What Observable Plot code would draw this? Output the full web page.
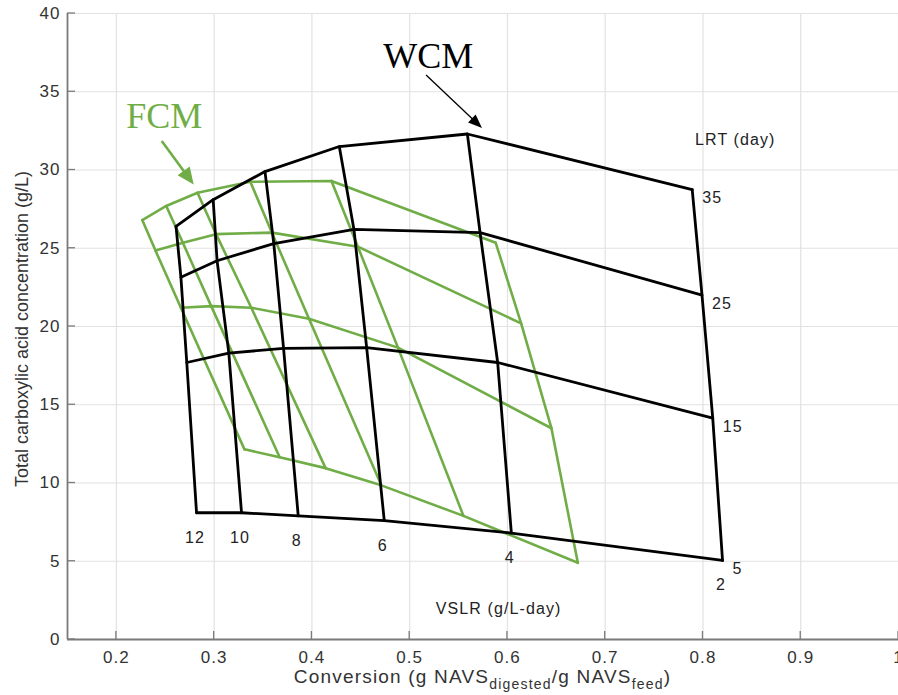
<!DOCTYPE html>
<html>
<head>
<meta charset="utf-8">
<script src="https://cdn.jsdelivr.net/npm/d3@7"></script>
<script src="https://cdn.jsdelivr.net/npm/@observablehq/plot@0.6"></script>
<style>
  body { margin: 0; background: #fff; }
  #chart svg { display: block; }
  #chart text { letter-spacing: 1.1px; }
</style>
</head>
<body>
<div id="chart"></div>
<script>
// ---- Data ----
const vslr = [12, 10, 8, 6, 4, 2];          // g/L-day (grid columns)
const lrt = [35, 25, 15, 5];                // day (grid rows)

// WCM: conversion (x) and total carboxylic acid (y), rows = LRT, cols = VSLR
const wcmConv = [
  [0.261, 0.299, 0.352, 0.428, 0.559, 0.789],
  [0.266, 0.303, 0.361, 0.443, 0.572, 0.799],
  [0.272, 0.315, 0.371, 0.456, 0.590, 0.810],
  [0.282, 0.328, 0.386, 0.474, 0.604, 0.820]
];
const wcmConc = [
  [26.4, 28.1, 29.9, 31.5, 32.3, 28.75],
  [23.15, 24.2, 25.3, 26.2, 26.0, 22.0],
  [17.7, 18.3, 18.6, 18.65, 17.7, 14.15],
  [8.1, 8.1, 7.9, 7.6, 6.8, 5.05]
];

// FCM
const fcmConv = [
  [0.2265, 0.251, 0.283, 0.337, 0.420, 0.588],
  [0.240, 0.268, 0.302, 0.359, 0.447, 0.614],
  [0.266, 0.297, 0.338, 0.397, 0.488, 0.645],
  [0.331, 0.367, 0.414, 0.471, 0.555, 0.672]
];
const fcmConc = [
  [26.8, 27.7, 28.55, 29.25, 29.3, 25.35],
  [24.85, 25.35, 25.9, 26.0, 25.1, 20.2],
  [21.2, 21.3, 21.2, 20.5, 18.65, 13.5],
  [12.15, 11.65, 10.95, 9.85, 7.9, 4.9]
];

const xTicks = [0.2, 0.3, 0.4, 0.5, 0.6, 0.7, 0.8, 0.9, 1.0];
const yTicks = [0, 5, 10, 15, 20, 25, 30, 35, 40];
const xDomain = [0.15, 1.0];
const yDomain = [0, 40];

// annotations (text, conversion, concentration)
const annoLabels = ["WCM", "FCM"];
const annoX = [0.519, 0.249];
const annoY = [36.5, 32.7];
const carpetTitles = ["LRT (day)", "VSLR (g/L-day)"];
const carpetTitleX = [0.833, 0.591];
const carpetTitleY = [31.6, 1.65];

// arrows: tail -> tip (data units)
const arrowTailX = [0.5173, 0.2469];
const arrowTailY = [36.04, 31.82];
const arrowTipX = [0.5745, 0.2796];
const arrowTipY = [32.65, 29.04];

// ---- Styles ----
const green = "#70ad47";
const black = "#000000";
const axisColor = "#7a7a7a";
const textColor = "#333333";
const arrowStyle = [
  {color: black, width: 1.3, head: 14, half: 5.5},
  {color: green, width: 2.6, head: 17, half: 7.5}
];

// ---- Build tables ----
function grid(model, conv, conc) {
  const out = [];
  lrt.forEach((L, i) => vslr.forEach((V, j) => out.push({model, lrt: L, vslr: V, x: conv[i][j], y: conc[i][j]})));
  return out;
}
const wcm = grid("WCM", wcmConv, wcmConc);
const fcm = grid("FCM", fcmConv, fcmConc);
const annos = annoLabels.map((t, i) => ({t, x: annoX[i], y: annoY[i]}));
const titles = carpetTitles.map((t, i) => ({t, x: carpetTitleX[i], y: carpetTitleY[i]}));

const fmtX = d => (Math.abs(d - 1) < 1e-9 ? "1" : d3.format(".1f")(d));

function decorations(index, scales) {
  const x = scales.x, y = scales.y;
  const g = d3.create("svg:g");
  if (!x || !y) return g.node();
  const x0 = x(xDomain[0]), y0 = y(yDomain[0]);
  // inward tick marks
  xTicks.forEach(t => g.append("line")
    .attr("x1", x(t)).attr("x2", x(t)).attr("y1", y0).attr("y2", y0 - 8)
    .attr("stroke", axisColor).attr("stroke-width", 1.3));
  yTicks.forEach(t => g.append("line")
    .attr("x1", x0).attr("x2", x0 + 8).attr("y1", y(t)).attr("y2", y(t))
    .attr("stroke", axisColor).attr("stroke-width", 1.3));
  // arrows with filled heads
  arrowTailX.forEach((_, i) => {
    const st = arrowStyle[i];
    const ax = x(arrowTailX[i]), ay = y(arrowTailY[i]);
    const bx = x(arrowTipX[i]), by = y(arrowTipY[i]);
    const len = Math.hypot(bx - ax, by - ay);
    const ux = (bx - ax) / len, uy = (by - ay) / len;
    const nx = -uy, ny = ux;
    const baseX = bx - st.head * ux, baseY = by - st.head * uy;
    g.append("line")
      .attr("x1", ax).attr("y1", ay)
      .attr("x2", baseX + 2 * ux).attr("y2", baseY + 2 * uy)
      .attr("stroke", st.color).attr("stroke-width", st.width);
    g.append("path")
      .attr("d", `M${bx},${by}L${baseX + st.half * nx},${baseY + st.half * ny}L${baseX - st.half * nx},${baseY - st.half * ny}Z`)
      .attr("fill", st.color);
  });
  return g.node();
}

const plot = Plot.plot({
  width: 898,
  height: 695,
  marginLeft: 67,
  marginRight: 0,
  marginTop: 13,
  marginBottom: 56,
  x: {domain: xDomain},
  y: {domain: yDomain},
  style: {fontFamily: "'Liberation Sans', Arial, Helvetica, sans-serif", color: textColor, background: "white"},
  marks: [
    Plot.gridX(xTicks, {stroke: "#e2e2e2", strokeOpacity: 1, strokeWidth: 1.2}),
    Plot.gridY(yTicks, {stroke: "#e2e2e2", strokeOpacity: 1, strokeWidth: 1.2}),
    Plot.axisX(xTicks, {anchor: "bottom", tickSize: 0, tickPadding: 11, tickFormat: fmtX, fontSize: 17, label: null}),
    Plot.axisY(yTicks, {anchor: "left", tickSize: 0, tickPadding: 7, fontSize: 17, label: null}),
    Plot.ruleX([xDomain[0]], {stroke: axisColor, strokeWidth: 1.8}),
    Plot.ruleY([yDomain[0]], {stroke: axisColor, strokeWidth: 1.8}),
    // FCM grid (green)
    Plot.line(fcm, {x: "x", y: "y", z: "lrt", stroke: green, strokeWidth: 2.6, strokeLinejoin: "miter"}),
    Plot.line(fcm, {x: "x", y: "y", z: "vslr", stroke: green, strokeWidth: 2.6, strokeLinejoin: "miter"}),
    // WCM grid (black)
    Plot.line(wcm, {x: "x", y: "y", z: "lrt", stroke: black, strokeWidth: 2.8, strokeLinejoin: "miter"}),
    Plot.line(wcm, {x: "x", y: "y", z: "vslr", stroke: black, strokeWidth: 2.8, strokeLinejoin: "miter"}),
    // carpet labels
    Plot.text(wcm.filter(d => d.lrt === 5), {x: "x", y: "y", text: d => String(d.vslr), dy: 30, dx: -1.5, lineAnchor: "bottom", fontSize: 16, fill: "#222"}),
    Plot.text(wcm.filter(d => d.vslr === 2), {x: "x", y: "y", text: d => String(d.lrt), dx: 10, dy: 13.5, textAnchor: "start", lineAnchor: "bottom", fontSize: 16, fill: "#222"}),
    Plot.text(titles, {x: "x", y: "y", text: "t", lineAnchor: "bottom", fontSize: 16, fill: "#222"}),
    // model annotations
    Plot.text(annos, {x: "x", y: "y", text: "t", lineAnchor: "bottom", fontSize: 36,
      fontFamily: "'Liberation Serif', 'Times New Roman', serif",
      fill: d => (d.t === "FCM" ? green : black)}),
    decorations
  ]
});

document.getElementById("chart").appendChild(plot);

// axis titles (with subscripts)
const svg = d3.select(plot);
svg.selectAll("text").filter(function() { return this.textContent === "WCM" || this.textContent === "FCM"; })
  .style("letter-spacing", "0px");
const cx = (67 + 898) / 2;
const xl = svg.append("text")
  .attr("x", cx).attr("y", 683)
  .attr("text-anchor", "middle")
  .attr("fill", textColor)
  .attr("font-family", "'Liberation Sans', Arial, sans-serif")
  .attr("font-size", 19)
  .style("letter-spacing", "1.2px");
xl.append("tspan").text("Conversion (g NAVS");
xl.append("tspan").attr("font-size", 14).attr("dy", 6).text("digested");
xl.append("tspan").attr("dy", -6).text("/g NAVS");
xl.append("tspan").attr("font-size", 14).attr("dy", 6).text("feed");
xl.append("tspan").attr("dy", -6).text(")");

svg.append("text")
  .attr("transform", "translate(28,329) rotate(-90)")
  .attr("text-anchor", "middle")
  .attr("fill", textColor)
  .attr("font-family", "'Liberation Sans', Arial, sans-serif")
  .attr("font-size", 18)
  .style("letter-spacing", "0px")
  .text("Total carboxylic acid concentration (g/L)");
</script>
</body>
</html>
